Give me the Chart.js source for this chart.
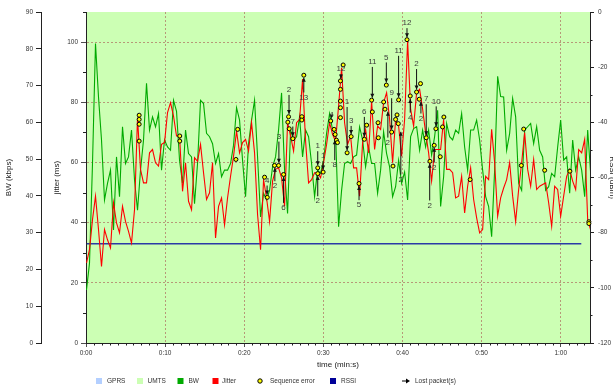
<!DOCTYPE html>
<html>
<head>
<meta charset="utf-8">
<script src="https://cdn.jsdelivr.net/npm/chart.js@4.4.1/dist/chart.umd.min.js"></script>
<style>
  html, body { margin: 0; padding: 0; background: #fff; overflow: hidden; }
  #wrap { width: 613px; height: 388px; overflow: hidden; }
</style>
</head>
<body>
<div id="wrap"><canvas id="chart" width="630" height="388" style="width:630px;height:388px"></canvas></div>
<script>
// samples every STEP seconds starting at T0
const T0 = 0.063;
const STEP = 0.3793;
const X_MAX = 63.7;

// bandwidth (kbps)
const bwKbps = [
  14.4, 21.7, 48.8, 81.4, 66.9, 55.2, 38.9, 43.4, 47.0, 30.7, 50.6, 39.8, 58.8, 48.8, 50.6, 57.9, 44.3, 36.1, 47.0, 55.2, 70.6, 57.9, 61.5, 58.8, 62.4, 47.0, 55.2, 53.3,
  52.4, 66.0, 63.0, 49.7, 43.4, 57.9, 51.5, 50.6, 37.9, 48.8, 66.0, 65.1, 57.0, 56.1, 54.2, 48.8, 51.5, 45.2, 47.0, 47.0, 48.8, 53.8, 64.0, 60.6, 49.7, 39.8, 54.2, 60.6,
  66.0, 50.6, 34.3, 40.7, 38.9, 41.5, 47.9, 50.6, 57.9, 68.0, 47.0, 35.2, 57.9, 55.2, 56.1, 61.5, 50.6, 57.9, 56.1, 48.8, 39.8, 47.0, 46.1, 49.7, 57.0, 62.4, 57.9, 57.0,
  31.6, 41.5, 48.8, 49.3, 48.8, 50.6, 51.1, 58.8, 55.2, 47.9, 53.3, 48.8, 48.8, 40.7, 47.0, 57.4, 51.5, 47.9, 39.8, 42.5, 49.7, 43.4, 46.5, 38.9, 56.1, 58.3, 58.8, 52.4,
  57.9, 53.3, 57.9, 51.1, 56.1, 63.3, 37.1, 45.2, 59.7, 56.1, 55.2, 57.9, 57.0, 62.4, 53.3, 47.0, 57.9, 57.9, 60.6, 55.2, 47.0, 39.8, 37.1, 28.9, 47.0, 72.5, 67.0, 66.9,
  52.4, 57.0, 66.5, 61.5, 43.4, 41.5, 57.9, 58.8, 59.7, 54.2, 58.8, 52.4, 50.6, 41.5, 42.5, 46.1, 45.2, 53.3, 60.6, 49.7, 50.6, 40.7, 55.2, 47.0, 50.6, 47.0, 39.8, 57.9,
  46.0
];

// jitter (ms)
const jitterMs = [
  26.6, 31.0, 41.0, 48.8, 37.7, 25.4, 37.7, 34.3, 31.6, 46.6, 39.9, 36.6, 45.4, 40.4, 37.1, 33.2, 44.3, 74.9, 57.7, 53.2, 53.2, 63.2, 64.3, 59.9, 58.8, 66.0, 66.6, 76.6,
  79.9, 75.4, 68.8, 68.8, 50.4, 59.9, 47.1, 44.3, 61.6, 60.4, 66.0, 56.6, 47.7, 49.9, 59.9, 34.9, 45.4, 48.2, 39.3, 48.2, 55.4, 62.1, 70.4, 63.2, 66.6, 67.7, 63.8, 73.2,
  63.2, 42.7, 31.0, 54.3, 48.2, 40.4, 53.8, 57.7, 58.2, 54.9, 45.4, 73.2, 68.8, 63.8, 73.2, 74.3, 87.7, 67.1, 53.2, 54.3, 56.6, 56.6, 54.9, 59.9, 66.0, 73.2, 69.3, 67.1,
  78.8, 91.5, 73.2, 66.0, 68.8, 58.2, 58.2, 48.8, 66.6, 71.0, 63.2, 80.4, 64.3, 72.1, 71.0, 79.9, 83.2, 74.3, 59.9, 74.3, 72.1, 62.1, 74.3, 100.4, 77.7, 72.1, 83.2, 84.3,
  77.7, 69.9, 63.2, 53.8, 64.3, 64.3, 64.3, 74.3, 57.7, 57.7, 56.6, 48.2, 48.8, 55.4, 43.2, 52.1, 58.2, 47.7, 41.6, 36.6, 37.7, 55.4, 54.3, 71.0, 59.9, 42.1, 48.2, 51.5,
  54.3, 59.9, 48.8, 40.4, 51.0, 59.9, 69.9, 57.7, 52.1, 61.0, 51.0, 52.1, 52.7, 53.2, 46.6, 38.8, 52.1, 51.0, 42.1, 48.8, 55.4, 57.7, 53.8, 51.0, 64.3, 63.2, 67.7, 41.0,
  37.5
];

// RSSI (dBm)
const rssiTimes = [0.1, 62.6];
const rssiDbm = [-84, -84];

// network type periods
const networkTypes = ['UMTS'];
const networkFrom = [0];
const networkTo = [63.7];

// sequence errors (time s, jitter ms)
const seqTimes = [6.72, 6.72, 6.72, 6.72, 11.85, 11.85, 18.95, 19.17, 22.57, 22.91, 23.83, 24.34, 24.97, 25.51, 25.60, 25.69, 26.14, 27.28, 27.28, 27.53,
  29.29, 29.29, 29.97, 30.93, 31.36, 31.49, 31.65, 31.78, 32.16, 32.16, 32.16, 32.16, 32.16, 32.50, 33.00, 33.51, 34.51, 35.18, 35.47, 36.10, 36.19,
  36.91, 36.95, 37.62, 37.79, 37.96, 38.63, 38.80, 39.13, 39.31, 39.47, 39.51, 40.57, 40.98, 41.78, 42.12, 42.28, 43.00, 43.47, 44.01, 44.22, 44.77,
  45.06, 45.23, 48.55, 55.02, 55.32, 57.97, 61.16, 63.56, 63.56];
const seqJitter = [75.7, 74.3, 72.7, 67.1, 68.8, 67.1, 61.0, 71.0, 55.1, 48.4, 59.0, 59.0, 56.0, 73.4, 75.2, 71.2, 67.9, 75.2, 74.1, 89.0,
  58.2, 56.3, 56.8, 73.8, 71.0, 69.3, 67.4, 66.6, 87.1, 84.3, 80.4, 78.2, 74.9, 92.4, 63.2, 68.6, 53.0, 67.7, 72.4, 80.7, 76.8,
  73.2, 68.2, 80.1, 77.7, 85.7, 70.1, 58.8, 74.3, 75.8, 72.9, 80.8, 100.8, 82.1, 83.4, 81.0, 86.2, 68.2, 60.4, 65.7, 71.2, 61.9,
  71.8, 75.1, 54.3, 59.0, 71.1, 57.4, 57.1, 40.3, 39.7];

// lost packets: time, where the count label sits, which marker it points at, count
const lostTimes = [22.89, 23.87, 24.38, 24.97, 25.66, 26.14, 27.53, 29.29, 29.29, 29.97, 31.02, 31.44, 32.22, 33.00, 33.51, 34.51,
  35.18, 36.19, 37.96, 38.15, 38.63, 39.51, 39.79, 40.57, 40.98, 41.78, 42.33, 43.00, 43.44, 44.01, 44.26];
const lostLabelAt = [54.0, 52.1, 68.6, 44.9, 84.1, 73.6, 81.6, 65.4, 47.1, 62.1, 76.0, 59.1, 91.0, 80.1, 73.8, 45.8,
  76.8, 93.4, 94.9, 66.6, 83.0, 97.1, 54.3, 106.3, 74.9, 92.7, 74.6, 81.0, 45.7, 58.3, 80.3];
const lostMarkerAt = [48.5, 59.1, 59.1, 56.0, 75.3, 67.9, 89.0, 58.2, 56.3, 56.8, 73.8, 68.2, 87.1, 63.2, 68.6, 53.0,
  67.7, 80.7, 85.7, 77.7, 70.1, 80.8, 71.0, 100.8, 81.9, 83.4, 81.0, 68.2, 60.4, 65.7, 71.2];
const lostCounts = [4, 2, 3, 6, 2, 7, 13, 1, 2, 1, 4, 8, 12, 1, 3, 5, 6, 11, 5, 2, 9, 11, 2, 12, 4, 2, 2, 7, 2, 2, 10];

const legendLabels = ['GPRS', 'UMTS', 'BW', 'Jitter', 'Sequence error', 'RSSI', 'Lost packet(s)'];

const FONT = "'Liberation Sans', Arial, sans-serif";
const AXIS = '#222';
const GRID_RED = 'rgba(170,95,85,0.8)';
const NONE = 'rgba(0,0,0,0)';
const COLORS = { GPRS: '#b3cfff', UMTS: '#ccffb4', BW: '#00aa00', Jitter: '#ff0000', RSSI: '#000099' };

function fmtTime(v) {
  const m = Math.floor(v / 60);
  const s = Math.round(v % 60);
  return m + ':' + String(s).padStart(2, '0');
}

const toPoints = (vals, start, step) => vals.map((v, i) => ({ x: start + i * step, y: v }));

// shaded network periods behind everything
const bandPlugin = {
  id: 'bands',
  beforeDraw(chart) {
    const { ctx, chartArea: a, scales: { x } } = chart;
    ctx.save();
    networkTypes.forEach((type, i) => {
      const x1 = Math.max(a.left, x.getPixelForValue(networkFrom[i]));
      const x2 = Math.min(a.right, x.getPixelForValue(networkTo[i]));
      ctx.fillStyle = COLORS[type];
      ctx.fillRect(x1, a.top, x2 - x1, a.bottom - a.top);
    });
    ctx.restore();
  }
};

// lost packet arrows with their counts
const arrowPlugin = {
  id: 'arrows',
  afterDatasetsDraw(chart) {
    const { ctx, scales: { x, yJ } } = chart;
    ctx.save();
    ctx.font = '8px ' + FONT;
    ctx.textAlign = 'center';
    ctx.textBaseline = 'middle';
    lostTimes.forEach((t, i) => {
      const px = x.getPixelForValue(t);
      const yl = yJ.getPixelForValue(lostLabelAt[i]);
      const ym = yJ.getPixelForValue(lostMarkerAt[i]);
      const dir = ym > yl ? 1 : -1;
      const y1 = yl + dir * 5;
      const y2 = ym - dir * 2.5;
      ctx.strokeStyle = '#111';
      ctx.lineWidth = 1;
      ctx.beginPath();
      ctx.moveTo(px, y1);
      ctx.lineTo(px, y2);
      ctx.stroke();
      ctx.fillStyle = '#111';
      ctx.beginPath();
      ctx.moveTo(px, y2);
      ctx.lineTo(px - 2, y2 - dir * 4);
      ctx.lineTo(px + 2, y2 - dir * 4);
      ctx.closePath();
      ctx.fill();
      ctx.fillStyle = '#3a3a3a';
      ctx.fillText(String(lostCounts[i]), px, yl);
    });
    ctx.restore();
  }
};

// minor ticks and the legend row
const extrasPlugin = {
  id: 'extras',
  afterDraw(chart) {
    const { ctx, chartArea: a, scales: { x, yJ, yR } } = chart;
    ctx.save();
    ctx.strokeStyle = AXIS;
    ctx.lineWidth = 1;
    ctx.beginPath();
    for (let s = 1; s < X_MAX; s++) {
      if (s % 10 === 0) continue;
      const px = Math.round(x.getPixelForValue(s)) + 0.5;
      ctx.moveTo(px, a.bottom);
      ctx.lineTo(px, a.bottom + 2.5);
    }
    for (let v = 10; v <= 110; v += 20) {
      const py = Math.round(yJ.getPixelForValue(v)) + 0.5;
      ctx.moveTo(a.left - 3, py);
      ctx.lineTo(a.left, py);
    }
    for (let v = -10; v > -120; v -= 20) {
      const py = Math.round(yR.getPixelForValue(v)) + 0.5;
      ctx.moveTo(a.right, py);
      ctx.lineTo(a.right + 2.5, py);
    }
    ctx.stroke();

    // legend
    const ly = 381;
    const boxX = [96, 137, 177.5, 212.5, 260, 330, 402];
    const textX = [107, 147.5, 188.5, 222, 270, 341, 415];
    ctx.font = '6.5px ' + FONT;
    ctx.textBaseline = 'middle';
    ctx.textAlign = 'left';
    legendLabels.forEach((lbl, i) => {
      const bx = boxX[i];
      if (lbl === 'Sequence error') {
        ctx.beginPath();
        ctx.arc(bx, ly, 2.2, 0, Math.PI * 2);
        ctx.fillStyle = '#ffff00';
        ctx.fill();
        ctx.strokeStyle = '#000';
        ctx.lineWidth = 1;
        ctx.stroke();
      } else if (lbl === 'Lost packet(s)') {
        ctx.strokeStyle = '#000';
        ctx.lineWidth = 1;
        ctx.beginPath();
        ctx.moveTo(bx, ly);
        ctx.lineTo(bx + 5, ly);
        ctx.stroke();
        ctx.fillStyle = '#000';
        ctx.beginPath();
        ctx.moveTo(bx + 8, ly);
        ctx.lineTo(bx + 4, ly - 2.5);
        ctx.lineTo(bx + 4, ly + 2.5);
        ctx.closePath();
        ctx.fill();
      } else {
        ctx.fillStyle = COLORS[lbl];
        ctx.fillRect(bx, ly - 3, 6, 6);
      }
      ctx.fillStyle = '#333';
      ctx.fillText(lbl, textX[i], ly);
    });
    ctx.restore();
  }
};

const tickFont = { family: FONT, size: 6.5 };
const titleFont = { family: FONT, size: 8 };

new Chart(document.getElementById('chart'), {
  type: 'line',
  data: {
    datasets: [
      {
        label: 'Sequence error',
        data: seqTimes.map((t, i) => ({ x: t, y: seqJitter[i] })),
        yAxisID: 'yJ',
        showLine: false,
        pointRadius: 2,
        pointBackgroundColor: '#ffff00',
        pointBorderColor: '#000',
        pointBorderWidth: 1,
        clip: false,
        order: 0
      },
      {
        label: 'Jitter',
        data: toPoints(jitterMs, T0, STEP),
        yAxisID: 'yJ',
        borderColor: COLORS.Jitter,
        borderWidth: 1.1,
        pointRadius: 0,
        tension: 0,
        order: 1
      },
      {
        label: 'BW',
        data: toPoints(bwKbps, T0, STEP),
        yAxisID: 'yBW',
        borderColor: COLORS.BW,
        borderWidth: 1.1,
        pointRadius: 0,
        tension: 0,
        order: 2
      },
      {
        label: 'RSSI',
        data: rssiTimes.map((t, i) => ({ x: t, y: rssiDbm[i] })),
        yAxisID: 'yR',
        borderColor: '#2a3aa6',
        borderWidth: 1.6,
        pointRadius: 0,
        order: 3
      }
    ]
  },
  options: {
    responsive: false,
    animation: false,
    events: [],
    layout: { padding: { left: 0, right: 0, top: 12, bottom: 15 } },
    plugins: { legend: { display: false }, tooltip: { enabled: false } },
    scales: {
      x: {
        type: 'linear',
        position: 'bottom',
        min: 0,
        max: X_MAX,
        afterFit: s => { s.height = 30; },
        afterBuildTicks: s => { s.ticks = s.ticks.filter(t => t.value % 10 === 0); },
        ticks: { stepSize: 10, autoSkip: false, maxRotation: 0, padding: 2, color: '#333', font: tickFont, callback: v => fmtTime(v) },
        grid: { color: c => (c.tick && c.tick.value > 0 ? GRID_RED : NONE), lineWidth: 0.8, tickColor: AXIS, tickLength: 4 },
        border: { display: true, color: AXIS, width: 1, dash: [2, 2] },
        title: { display: true, text: 'time (min:s)', color: '#222', font: titleFont, padding: { top: 0, bottom: 3 } }
      },
      yBW: {
        type: 'linear',
        position: 'left',
        weight: 1,
        min: 0,
        max: 90,
        afterFit: s => { s.width = 41; },
        ticks: { stepSize: 10, padding: 3, color: '#333', font: tickFont },
        grid: { drawOnChartArea: false, tickColor: AXIS, tickLength: 5 },
        border: { display: true, color: AXIS, width: 1 },
        title: { display: true, text: 'BW (kbps)', color: '#222', font: titleFont, padding: { top: 3.5, bottom: 0 } }
      },
      yJ: {
        type: 'linear',
        position: 'left',
        weight: 0,
        min: 0,
        max: 110,
        afterFit: s => { s.width = 45; },
        afterBuildTicks: s => { s.ticks = s.ticks.filter(t => t.value <= 100 && t.value % 20 === 0); },
        ticks: { stepSize: 20, padding: 3, color: '#333', font: tickFont },
        grid: { color: c => (c.tick && c.tick.value > 0 ? GRID_RED : NONE), lineWidth: 0.8, tickColor: AXIS, tickLength: 5 },
        border: { display: true, color: AXIS, width: 1, dash: [2, 2] },
        title: { display: true, text: 'jitter (ms)', color: '#222', font: titleFont, padding: { top: 11, bottom: 0 } }
      },
      yR: {
        type: 'linear',
        position: 'right',
        min: -120,
        max: 0,
        afterFit: s => { s.width = 40; },
        ticks: { stepSize: 20, padding: 4, color: '#333', font: tickFont },
        grid: { drawOnChartArea: false, tickColor: AXIS, tickLength: 4 },
        border: { display: true, color: AXIS, width: 1 },
        title: { display: true, text: 'RSSI (dBm)', color: '#222', font: titleFont, padding: { top: 13, bottom: 0 } }
      }
    }
  },
  plugins: [bandPlugin, arrowPlugin, extrasPlugin]
});
</script>
</body>
</html>
